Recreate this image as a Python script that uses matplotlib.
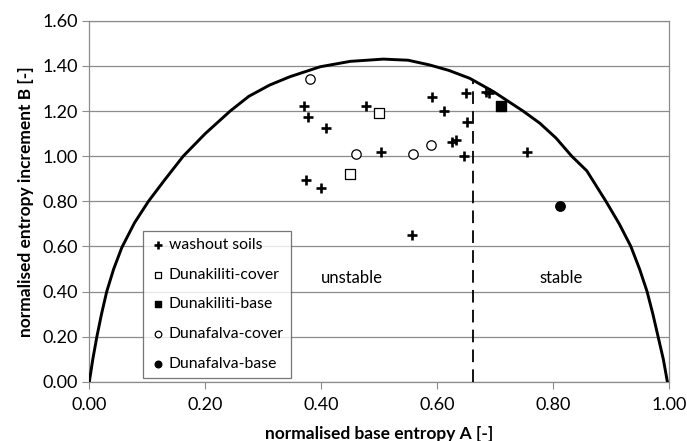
import matplotlib
matplotlib.use("Agg")
import matplotlib.pyplot as plt

plt.rcParams['font.family'] = ['Lato', 'DejaVu Sans']

# stability boundary curve (A, B)
curve_a = [0.0, 0.006, 0.013, 0.021, 0.030, 0.042, 0.056, 0.078, 0.102, 0.130,
           0.162, 0.200, 0.243, 0.275, 0.311, 0.346, 0.398, 0.450, 0.507, 0.550,
           0.587, 0.620, 0.656, 0.697, 0.748, 0.777, 0.805, 0.832, 0.858, 0.891,
           0.914, 0.934, 0.949, 0.962, 0.972, 0.981, 0.990, 0.997]
curve_b = [0.0, 0.10, 0.20, 0.30, 0.40, 0.50, 0.595, 0.705, 0.80, 0.895,
           1.00, 1.10, 1.20, 1.265, 1.315, 1.352, 1.396, 1.420, 1.430, 1.425,
           1.404, 1.380, 1.345, 1.286, 1.200, 1.146, 1.080, 1.00, 0.935, 0.80,
           0.70, 0.60, 0.50, 0.40, 0.30, 0.20, 0.10, 0.0]

# limit between unstable and stable
limit_a = 0.662
limit_b = 1.335

washout_a = [0.371, 0.377, 0.409, 0.477, 0.591, 0.611, 0.649, 0.651, 0.685, 0.689,
             0.626, 0.632, 0.503, 0.647, 0.754, 0.373, 0.399, 0.557]
washout_b = [1.222, 1.172, 1.126, 1.222, 1.264, 1.202, 1.279, 1.153, 1.286, 1.280,
             1.063, 1.072, 1.020, 1.002, 1.020, 0.895, 0.861, 0.651]

dk_cover_a = [0.499, 0.449]
dk_cover_b = [1.193, 0.922]
dk_base_a = [0.710]
dk_base_b = [1.222]
df_cover_a = [0.380, 0.460, 0.559, 0.589]
df_cover_b = [1.340, 1.010, 1.010, 1.051]
df_base_a = [0.811]
df_base_b = [0.781]

grey = '#8c8c8c'

fig = plt.figure(figsize=(6.87, 4.41), dpi=100)
ax = fig.add_axes([0.130, 0.134, 0.844, 0.819])

ax.plot(curve_a, curve_b, color='black', lw=2.1, zorder=3,
        solid_joinstyle='round')
ax.plot([limit_a, limit_a], [0, limit_b], color='black', lw=1.3,
        dashes=(7, 4), zorder=3)

ax.scatter(washout_a, washout_b, marker='+', s=60, linewidths=1.9,
           color='black', label='washout soils', zorder=4)
ax.scatter(dk_cover_a, dk_cover_b, marker='s', s=44, facecolors='white',
           edgecolors='black', linewidths=0.9, label='Dunakiliti-cover', zorder=4)
ax.scatter(dk_base_a, dk_base_b, marker='s', s=44, color='black',
           label='Dunakiliti-base', zorder=4)
ax.scatter(df_cover_a, df_cover_b, marker='o', s=46, facecolors='white',
           edgecolors='black', linewidths=0.9, label='Dunafalva-cover', zorder=4)
ax.scatter(df_base_a, df_base_b, marker='o', s=46, color='black',
           label='Dunafalva-base', zorder=4)

ax.text(0.452, 0.462, 'unstable', fontsize=12, ha='center', va='center')
ax.text(0.8145, 0.462, 'stable', fontsize=12, ha='center', va='center')

ax.set_xlim(0, 1.0)
ax.set_ylim(0, 1.6)
ax.set_xticks([0.0, 0.2, 0.4, 0.6, 0.8, 1.0])
ax.set_yticks([0.0, 0.2, 0.4, 0.6, 0.8, 1.0, 1.2, 1.4, 1.6])
ax.set_xticklabels(['%.2f' % v for v in ax.get_xticks()])
ax.set_yticklabels(['%.2f' % v for v in ax.get_yticks()])
ax.tick_params(axis='both', labelsize=13, color=grey, length=5, width=0.8,
               direction='out', pad=3)
ax.tick_params(axis='x', pad=6)

ax.yaxis.grid(True, color=grey, lw=0.9)
ax.set_axisbelow(True)
for side in ['left', 'bottom', 'right', 'top']:
    ax.spines[side].set_color(grey)
    ax.spines[side].set_linewidth(0.9)

ax.set_xlabel('normalised base entropy A [-]', fontsize=12.5, fontweight='bold',
              labelpad=9)
ax.set_ylabel('normalised entropy increment B [-]', fontsize=12.5,
              fontweight='bold', labelpad=6)

leg = ax.legend(loc='upper left', bbox_to_anchor=(0.0926, 0.418),
                borderaxespad=0, fontsize=11.3, fancybox=False, frameon=True,
                labelspacing=1.0, handletextpad=0.2, handlelength=1.0,
                markerscale=0.7, borderpad=0.45)
leg.get_frame().set_edgecolor('#555555')
leg.get_frame().set_linewidth(0.9)
leg.set_zorder(5)

fig.savefig('out.png', dpi=100)
